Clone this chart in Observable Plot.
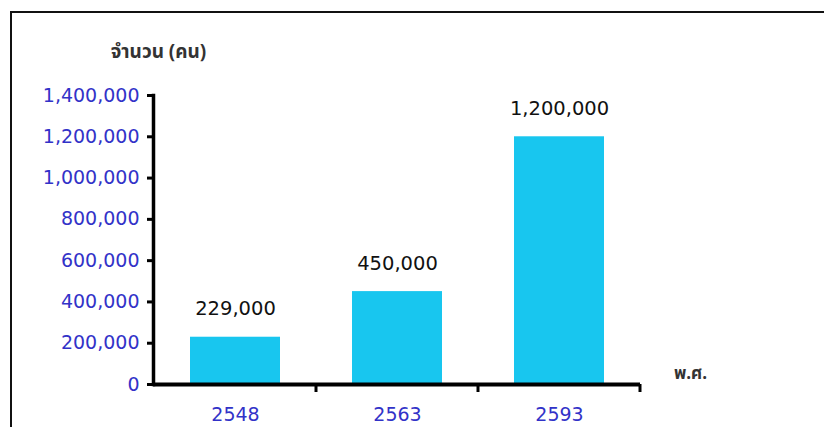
<!DOCTYPE html>
<html>
<head>
<meta charset="utf-8">
<script src="https://cdn.jsdelivr.net/npm/d3@7"></script>
<script src="https://cdn.jsdelivr.net/npm/@observablehq/plot@0.6"></script>
<style>
  html, body { margin: 0; padding: 0; background: #ffffff; }
  #wrap { position: relative; width: 824px; height: 427px; overflow: hidden; background: #ffffff; }
  #border { position: absolute; left: 10px; top: 11px; width: 900px; height: 500px; border: 2.5px solid #111; box-sizing: border-box; pointer-events: none; }
  #chart { position: absolute; left: 0; top: 0; }
</style>
</head>
<body>
<div id="wrap"><div id="border"></div><div id="chart"></div></div>
<script>
// Data
const years = ["2548", "2563", "2593"];
const people = [229000, 450000, 1200000];
const yTicks = [0, 200000, 400000, 600000, 800000, 1000000, 1200000, 1400000];
const yTitle = "จำนวน (คน)";
const xTitle = "พ.ศ.";

const data = years.map((y, i) => ({year: y, value: people[i]}));

const blue = "#3232c8";
const barColor = "#18c6ef";
const fmt = d3.format(",");

// ticks at band boundaries along the x axis
function boundaryTicks(index, scales) {
  const x = scales.x, y = scales.y;
  const step = x.step(), bw = x.bandwidth();
  const y0 = y(0);
  const g = d3.create("svg:g");
  years.forEach(c => {
    const bx = x(c) + bw + (step - bw) / 2;
    g.append("line")
      .attr("x1", bx).attr("x2", bx)
      .attr("y1", y0).attr("y2", y0 + 8)
      .attr("stroke", "#000").attr("stroke-width", 3);
  });
  return g.node();
}

const chart = Plot.plot({
  width: 824,
  height: 427,
  marginLeft: 153,
  marginRight: 184,
  marginTop: 95,
  marginBottom: 43,
  style: {background: "transparent", fontFamily: "'DejaVu Sans', sans-serif", fontSize: "19px", overflow: "visible"},
  x: {domain: years, paddingInner: 0.445, paddingOuter: 0.2225, label: null},
  y: {domain: [0, 1400000], label: null},
  marks: [
    Plot.barY(data, {x: "year", y: "value", fill: barColor}),
    Plot.axisY({ticks: yTicks, tickFormat: fmt, tickSize: 6, tickPadding: 8, stroke: "#000", strokeWidth: 3, fill: blue, fontSize: 19, label: null}),
    Plot.axisX({tickSize: 0, tickPadding: 23, fill: blue, fontSize: 19, label: null}),
    Plot.frame({anchor: "left", stroke: "#000", strokeWidth: 3.5}),
    Plot.ruleY([0], {stroke: "#000", strokeWidth: 4}),
    boundaryTicks,
    Plot.text(data, {x: "year", y: "value", text: d => fmt(d.value), dy: -28, fill: "#111", fontSize: 19.5}),
    Plot.text([yTitle], {frameAnchor: "top-left", dx: 5, dy: -51, textAnchor: "middle", fill: "#333", fontSize: 19, fontWeight: "bold", fontFamily: "'Noto Sans Thai', Tahoma, sans-serif"}),
    Plot.text([xTitle], {frameAnchor: "bottom-right", dx: 50, dy: -6, textAnchor: "middle", fill: "#333", fontSize: 17, fontWeight: "bold", fontFamily: "'Noto Sans Thai', Tahoma, sans-serif"})
  ]
});
document.getElementById("chart").appendChild(chart);
</script>
</body>
</html>
